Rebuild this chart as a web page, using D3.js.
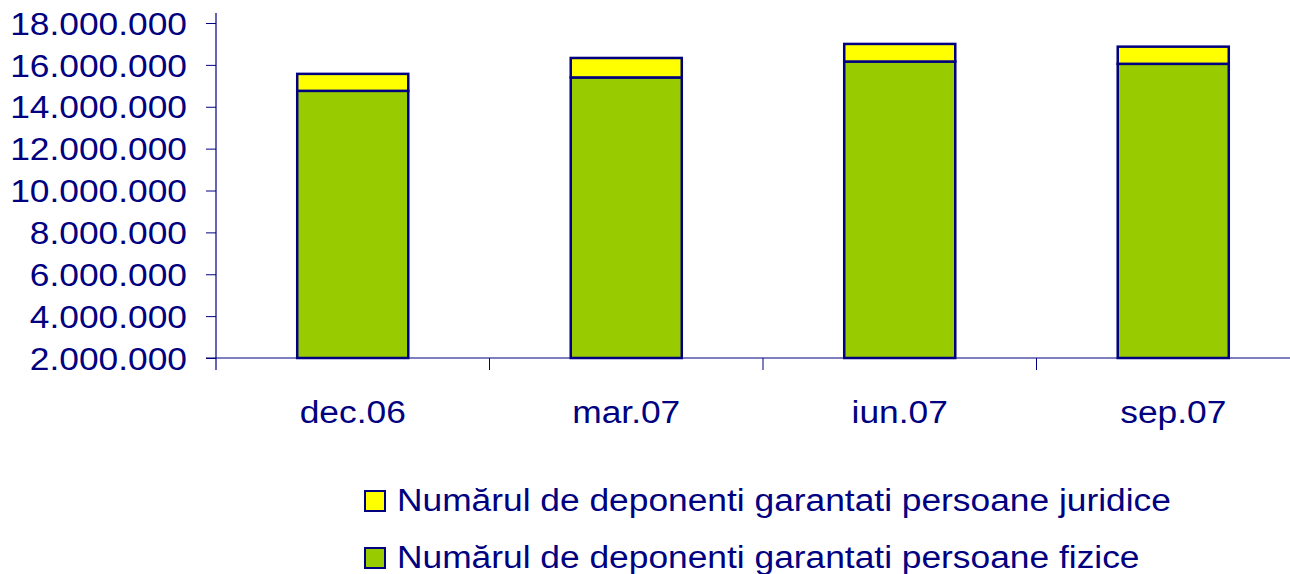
<!DOCTYPE html>
<html>
<head>
<meta charset="utf-8">
<script src="https://cdn.jsdelivr.net/npm/d3@7"></script>
<style>
  body { margin: 0; background: #fff; }
  text { font-family: "Liberation Sans", Arial, sans-serif; fill: #000080; }
</style>
</head>
<body>
<script>
// values
const categories = ['dec.06', 'mar.07', 'iun.07', 'sep.07'];
const fizice = [14760000, 15400000, 16160000, 16050000];
const juridice = [810000, 930000, 840000, 820000];
const yTicks = [2000000, 4000000, 6000000, 8000000, 10000000, 12000000, 14000000, 16000000, 18000000];
const legendLabels = [
  'Numărul de deponenti garantati persoane juridice',
  'Numărul de deponenti garantati persoane fizice'
];

const navy = '#000080';
const colors = { juridice: '#ffff00', fizice: '#99cc00' };
const stretch = 'scale(1.14,1)'; // the original lettering is a bit wider than Arial

const svg = d3.select('body').append('svg')
  .attr('width', 1290)
  .attr('height', 574);

const x = d3.scaleBand()
  .domain(categories)
  .range([216, 1310])
  .paddingInner(0.594)
  .paddingOuter(0.297);

const y = d3.scaleLinear()
  .domain([2000000, 18000000])
  .range([358, 23]);

const rows = categories.map((c, i) => ({ cat: c, fizice: fizice[i], juridice: juridice[i] }));
const series = d3.stack().keys(['fizice', 'juridice'])(rows);

// bars
svg.append('g').selectAll('g')
  .data(series)
  .enter().append('g')
  .attr('fill', d => colors[d.key])
  .selectAll('rect')
  .data(d => d)
  .enter().append('rect')
  .attr('x', d => x(d.data.cat))
  .attr('width', x.bandwidth())
  .attr('y', d => y(d[1]))
  .attr('height', d => y(Math.max(d[0], 2000000)) - y(d[1]))
  .attr('stroke', navy)
  .attr('stroke-width', 2.5);

// y axis
const fmt = v => d3.format(',')(v).replace(/,/g, '.');
const yAxis = svg.append('g')
  .attr('transform', 'translate(216,0)')
  .call(d3.axisLeft(y).tickValues(yTicks).tickFormat(fmt).tickSize(10).tickSizeOuter(0));
yAxis.select('.domain').remove();
yAxis.selectAll('line').attr('stroke', navy);
yAxis.selectAll('text')
  .style('font-size', '31px')
  .attr('x', null)
  .attr('dy', '0.36em')
  .attr('transform', `translate(-29,0) ${stretch}`);

// y axis line, runs a bit above and below the plot
svg.append('line')
  .attr('x1', 216).attr('x2', 216)
  .attr('y1', 13).attr('y2', 370)
  .attr('stroke', navy).attr('stroke-width', 1.2);

// x axis
svg.append('line')
  .attr('x1', 206).attr('x2', 1290)
  .attr('y1', y(2000000)).attr('y2', y(2000000))
  .attr('stroke', navy).attr('stroke-width', 1.2);

const gap = x.step() * x.paddingInner() / 2;
svg.append('g').selectAll('line')
  .data(categories.slice(1))
  .enter().append('line')
  .attr('x1', d => x(d) - gap)
  .attr('x2', d => x(d) - gap)
  .attr('y1', y(2000000))
  .attr('y2', y(2000000) + 12)
  .attr('stroke', navy);

svg.append('g').selectAll('text')
  .data(categories)
  .enter().append('text')
  .attr('transform', d => `translate(${x(d) + x.bandwidth() / 2},423) ${stretch}`)
  .attr('text-anchor', 'middle')
  .style('font-size', '31px')
  .text(d => d);

// legend
const legend = svg.append('g').selectAll('g')
  .data([
    { label: legendLabels[0], color: colors.juridice },
    { label: legendLabels[1], color: colors.fizice }
  ])
  .enter().append('g')
  .attr('transform', (d, i) => `translate(365,${491 + i * 57})`);

legend.append('rect')
  .attr('width', 20).attr('height', 20)
  .attr('fill', d => d.color)
  .attr('stroke', navy).attr('stroke-width', 2);

legend.append('text')
  .attr('transform', `translate(32,20) ${stretch}`)
  .style('font-size', '31px')
  .text(d => d.label);
</script>
</body>
</html>
